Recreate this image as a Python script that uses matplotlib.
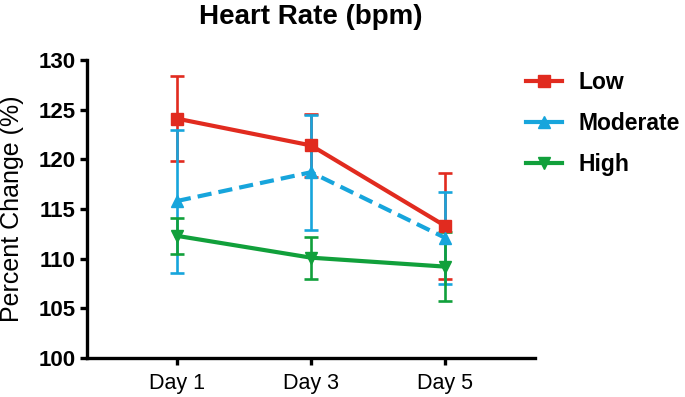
import numpy as np
import matplotlib
matplotlib.use("Agg")
import matplotlib.pyplot as plt
from matplotlib.lines import Line2D

plt.rcParams['font.family'] = ['Liberation Sans', 'DejaVu Sans']

days = ["Day 1", "Day 3", "Day 5"]
groups = ["Low", "Moderate", "High"]
low_mean = [124.1, 121.4, 113.3]
low_err = [4.3, 3.2, 5.3]
mod_mean = [115.8, 118.7, 112.1]
mod_err = [7.2, 5.8, 4.6]
high_mean = [112.3, 110.1, 109.2]
high_err = [1.8, 2.1, 3.5]

colors = ["#E12B1F", "#17A5DC", "#11A03B"]
markers = ["s", "^", "v"]
styles = ["-", (0, (3.4, 1.7)), "-"]

fig = plt.figure(figsize=(6.85, 3.97), dpi=100)
ax = fig.add_axes([87/685, 39/397, (535-87)/685, (358-60)/397])

x = np.arange(len(days))
series = [(low_mean, low_err), (mod_mean, mod_err), (high_mean, high_err)]
handles = []
for (m, e), c, mk, ls in zip(series, colors, markers, styles):
    ax.errorbar(x, m, yerr=e, color=c, ecolor=c, elinewidth=1.9, capsize=5,
                capthick=1.9, lw=3, ls=ls, marker=mk, ms=9, clip_on=False)
    handles.append(Line2D([], [], color=c, lw=3, ls='-', marker=mk, ms=8))

ax.set_xlim(-0.67, 2.67)
ax.set_ylim(100, 130)
ax.set_yticks(range(100, 131, 5))
ax.set_xticks(x)
ax.set_xticklabels(days, fontsize=15.5)
for t in ax.get_yticklabels():
    t.set_fontsize(16)
    t.set_fontweight('bold')
ax.spines['top'].set_visible(False)
ax.spines['right'].set_visible(False)
for s in ['left', 'bottom']:
    ax.spines[s].set_linewidth(2.4)
ax.tick_params(axis='both', direction='out', length=5, width=2.4, pad=3)
ax.tick_params(axis='x', pad=6)
ax.set_ylabel("Percent Change (%)", fontsize=18)
ax.yaxis.set_label_coords(-63/448, 0.5)

ax.set_title("Heart Rate (bpm)", fontsize=20, fontweight='bold', pad=26)

leg = fig.legend(handles, groups, loc='upper left', bbox_to_anchor=(526/685, 1 - 71/397),
                 frameon=False, handlelength=1.57, handletextpad=0.74, labelspacing=0.78,
                 borderpad=0, borderaxespad=0, prop={'size': 16.5, 'weight': 'bold'})

fig.savefig("out.png", dpi=100)
